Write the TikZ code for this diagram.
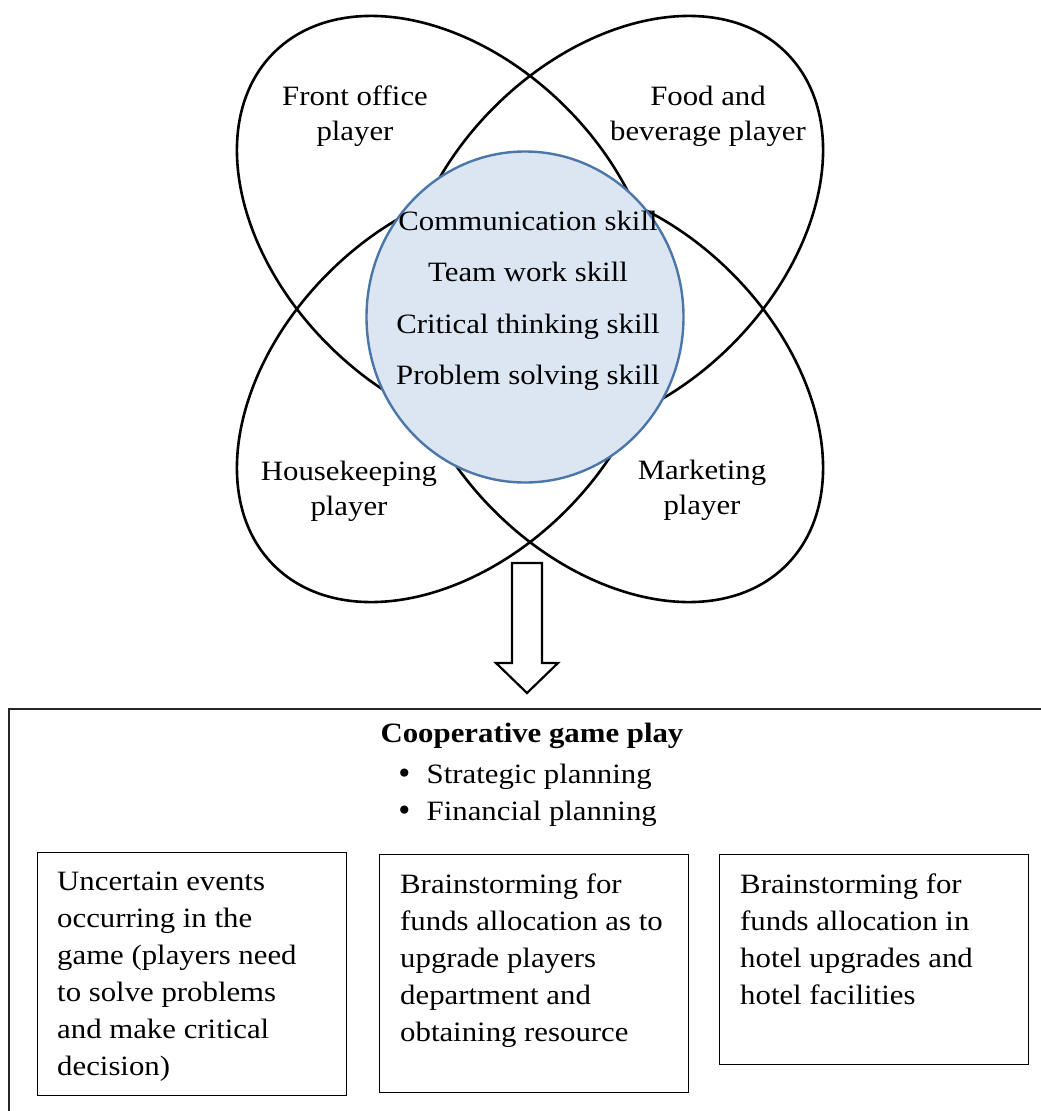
\documentclass[tikz,border=0pt]{standalone}
\usepackage{fontspec}
\setmainfont{Liberation Serif}[FakeStretch=1.1]
\newfontfamily\symbolfont{DejaVu Sans}
\usetikzlibrary{shapes.geometric, positioning}

\definecolor{corefill}{HTML}{DCE6F2}
\definecolor{coreline}{HTML}{4A76A8}

\newcommand{\bodyfont}{\fontsize{28}{37}\selectfont}
\newcommand{\tagfont}{\fontsize{28}{35}\selectfont}
\newcommand{\listfont}{\fontsize{28}{34}\selectfont}
\newcommand{\planbullet}{{\symbolfont •}\hspace{14pt}}

\begin{document}
\begin{tikzpicture}[
	x=1pt, y=-1pt,
	petal/.style={ellipse, draw, line width=2.6pt,
		minimum width=490pt, minimum height=336pt, inner sep=0pt},
	tag/.style={align=center, font=\tagfont, inner sep=0pt, anchor=north},
	skill/.style={font=\bodyfont, inner sep=0pt, anchor=base},
	panel/.style={rectangle, draw, line width=1.4pt, minimum width=309pt, anchor=north west},
	paneltext/.style={align=left, font=\bodyfont, inner sep=0pt},
	]
	\useasboundingbox (0,0) rectangle (1041,1111);

	% four petals and the shared core
	\node[petal, rotate=-45] (fopetal) at (447,226) {};
	\node[petal, rotate=45] (fbpetal) at (613,226) {};
	\node[petal, rotate=45] (hkpetal) at (447,392) {};
	\node[petal, rotate=-45] (mkpetal) at (613,392) {};
	\node[ellipse, draw=coreline, fill=corefill, line width=2.4pt,
		minimum width=317pt, minimum height=331pt] (core) at (525,317) {};

	\node[tag] (fo) at (355,81) {\strut Front office\\player};
	\node[tag] (fb) at (708,81) {\strut Food and\\beverage player};
	\node[tag] (hk) at (349,456) {\strut Housekeeping\\player};
	\node[tag] (mk) at (702,455) {\strut Marketing\\player};

	\node[skill] (comm) at (528,230) {Communication skill};
	\node[skill] (team) at (528,281) {Team work skill};
	\node[skill] (crit) at (528,333) {Critical thinking skill};
	\node[skill] (prob) at (528,384) {Problem solving skill};

	% block arrow down to the game box
	\draw[line width=2.2pt, line join=miter] (512,563) -- (542,563) -- (542,663) -- (558,663)
		-- (527,693) -- (496,663) -- (512,663) -- cycle;

	% cooperative play frame
	\draw[line width=2.2pt, draw=black!85] (9,709) rectangle (1090,1160);
	\node[skill, font=\bodyfont\bfseries] (coop) at (532,742) {Cooperative game play};
	\node[paneltext, anchor=north west] (plans) at (396,759) {\listfont\strut\planbullet Strategic planning\\
		\planbullet Financial planning};

	\node[panel, minimum height=243pt] (events) at (37,852) {};
	\node[panel, minimum height=238pt] (funds) at (379,854) {};
	\node[panel, minimum height=210pt] (hotel) at (719,854) {};

	\node[paneltext, below right=12pt and 20pt of events.north west] (eventstxt)
		{\strut Uncertain events\\occurring in the\\game (players need\\to solve problems\\and make critical\\decision)};
	\node[paneltext, below right=13pt and 21pt of funds.north west] (fundstxt)
		{\strut Brainstorming for\\funds allocation as to\\upgrade players\\department and\\obtaining resource};
	\node[paneltext, below right=13pt and 21pt of hotel.north west] (hoteltxt)
		{\strut Brainstorming for\\funds allocation in\\hotel upgrades and\\hotel facilities};
\end{tikzpicture}
\end{document}
